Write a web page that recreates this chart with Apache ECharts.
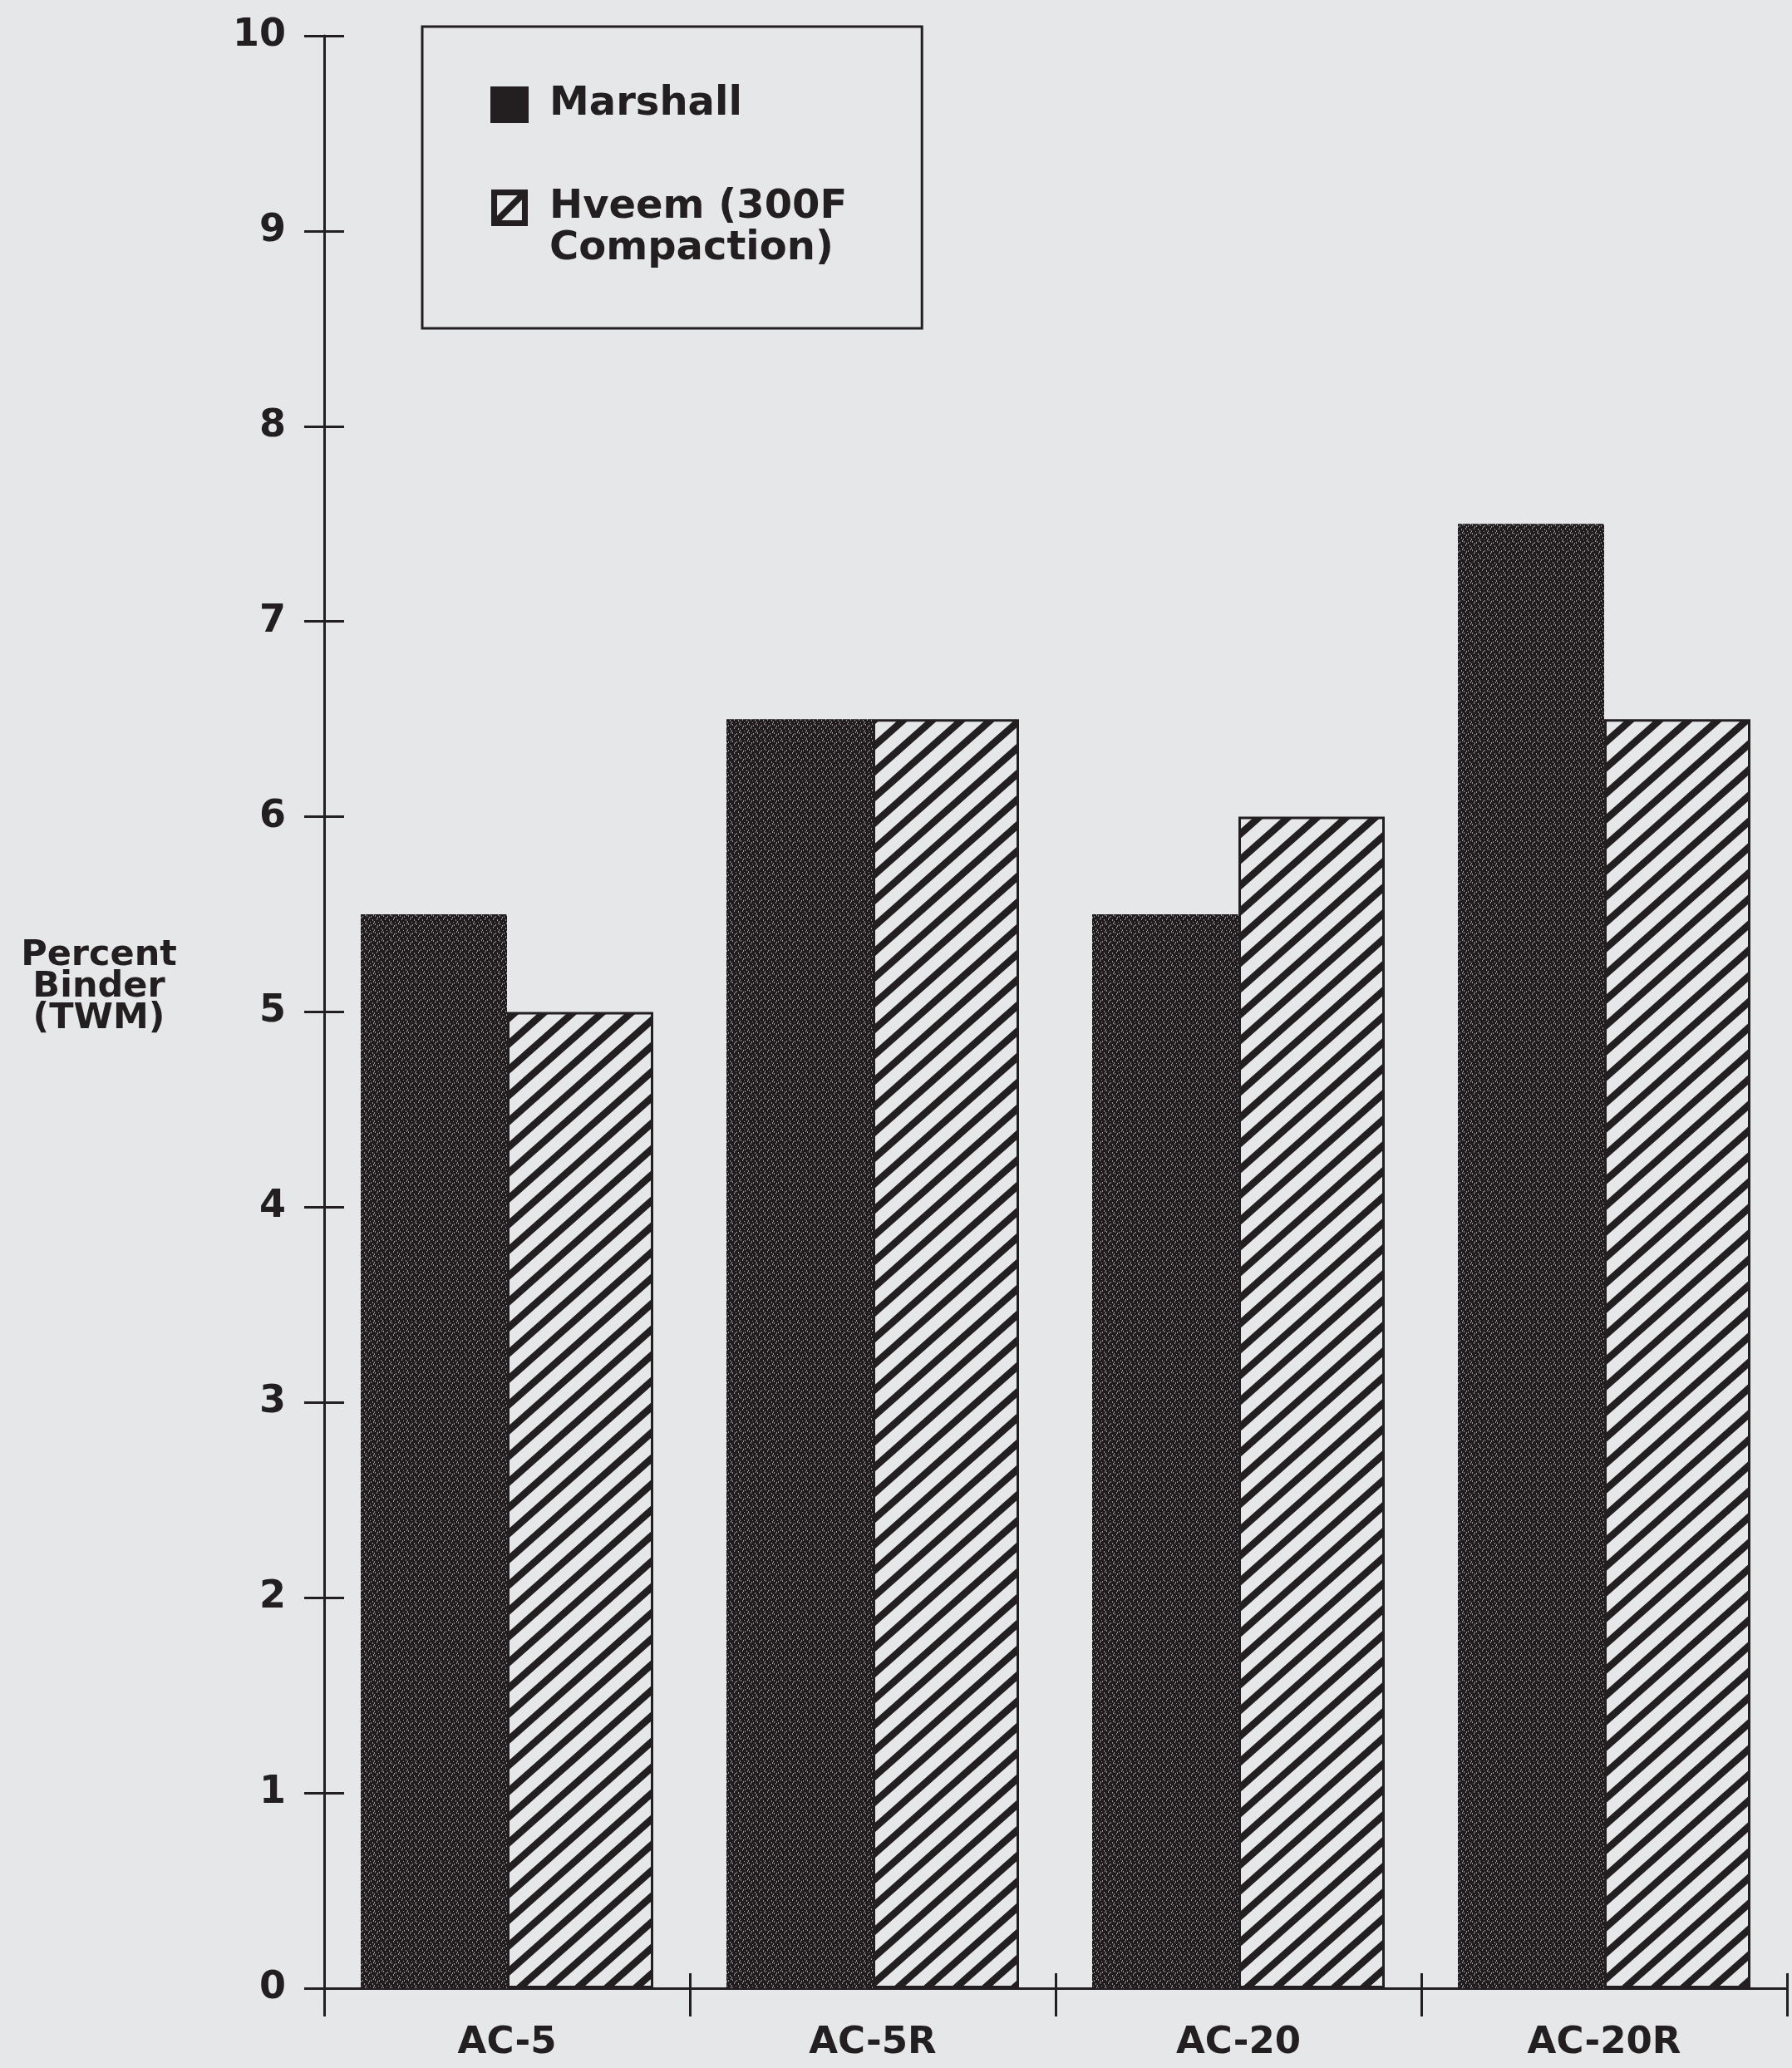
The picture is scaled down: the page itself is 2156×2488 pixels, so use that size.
<!DOCTYPE html>
<html><head><meta charset="utf-8">
<script src="https://cdn.jsdelivr.net/npm/echarts@6/dist/echarts.min.js"></script>
<style>html,body{margin:0;padding:0;background:#e6e7e9}#c{width:2156px;height:2488px}</style>
</head><body><div id="c"></div>
<script>
const categories = ['AC-5', 'AC-5R', 'AC-20', 'AC-20R'];
const marshall = [5.5, 6.5, 5.5, 7.5];
const hveem = [5.0, 6.5, 6.0, 6.5];
const seriesNames = ['Marshall', 'Hveem (300F\nCompaction)'];
const yAxisTitleLines = ['Percent', 'Binder', '(TWM)'];
const yMin = 0, yMax = 10, yStep = 1;

const INK = '#231f20';
const BG = '#e6e7e9';
const FONT = '"DejaVu Sans", sans-serif';

function hatchTile() {
  const W = 35, H = 31;
  const c = document.createElement('canvas');
  c.width = W; c.height = H;
  const g = c.getContext('2d');
  g.fillStyle = BG; g.fillRect(0, 0, W, H);
  g.strokeStyle = INK; g.lineWidth = 8.5;
  for (let k = -1; k <= 3; k++) {
    g.beginPath();
    g.moveTo((k - 2) * W, 2 * H);
    g.lineTo((k + 1) * W, -H);
    g.stroke();
  }
  return c;
}
function speckleTile() {
  const S = 10;
  const c = document.createElement('canvas');
  c.width = S; c.height = S;
  const g = c.getContext('2d');
  g.fillStyle = '#201c1d'; g.fillRect(0, 0, S, S);
  g.fillStyle = '#9a9697';
  const dots = [[1,1],[6,2],[3,5],[8,6],[0,8],[5,9],[9,0],[4,3]];
  dots.forEach(d => g.fillRect(d[0], d[1], 1, 2));
  return c;
}

const chart = echarts.init(document.getElementById('c'), null, {renderer: 'canvas'});
const hatch = {image: hatchTile(), repeat: 'repeat'};
const speckle = {image: speckleTile(), repeat: 'repeat'};

const titleRich = yAxisTitleLines.map(l => '{a|' + l + '}').join('\n') + '\n{b| }';

const option = {
  backgroundColor: BG,
  animation: false,
  grid: {left: 390, right: 6, top: 43, bottom: 96, containLabel: false},
  legend: {
    left: 508, top: 32, orient: 'vertical',
    padding: [69, 90, 70, 82],
    borderColor: INK, borderWidth: 3,
    itemWidth: 46, itemHeight: 44, itemGap: 24,
    formatter: function (name) {
      const lines = name.split('\n').map(l => '{t|' + l + '}');
      if (lines.length > 1) lines.unshift('{t| }');
      return lines.join('\n');
    },
    textStyle: {
      fontFamily: FONT, fontWeight: 'bold', fontSize: 48, color: INK, lineHeight: 50,
      rich: {t: {fontFamily: FONT, fontWeight: 'bold', fontSize: 48, color: INK, lineHeight: 50, padding: [0, 0, 0, 20]}}
    },
    data: [
      {name: seriesNames[0], icon: 'rect', itemStyle: {color: INK, borderWidth: 0}},
      {name: seriesNames[1],
       icon: 'path://M0,0L100,0L100,100L0,100ZM16,16L16,84L84,84L84,16ZM16,72L72,16L84,16L84,28L28,84L16,84Z',
       itemStyle: {color: INK, borderWidth: 0}}
    ]
  },
  xAxis: [
    {type: 'category', data: categories, boundaryGap: true,
     axisLine: {lineStyle: {color: INK, width: 3}},
     axisTick: {show: true, inside: false, length: 34, lineStyle: {color: INK, width: 3}},
     axisLabel: {fontFamily: FONT, fontWeight: 'bold', fontSize: 45, color: INK, margin: 44}},
    {type: 'category', data: categories, position: 'bottom', boundaryGap: true,
     axisLine: {show: false},
     axisTick: {show: true, inside: true, length: 18, lineStyle: {color: INK, width: 3}},
     axisLabel: {show: false}}
  ],
  yAxis: [
    {type: 'value', min: yMin, max: yMax, interval: yStep,
     name: titleRich, nameLocation: 'middle', nameRotate: 0, nameGap: 271,
     nameTextStyle: {align: 'center', verticalAlign: 'middle',
       rich: {
         a: {fontFamily: FONT, fontWeight: 'bold', fontSize: 43, color: INK, lineHeight: 38, align: 'center'},
         b: {fontSize: 10, lineHeight: 60}
       }},
     splitLine: {show: false},
     axisLine: {show: true, lineStyle: {color: INK, width: 3}},
     axisTick: {show: true, inside: false, length: 24, lineStyle: {color: INK, width: 3}},
     axisLabel: {fontFamily: FONT, fontWeight: 'bold', fontSize: 46, color: INK, margin: 46}},
    {type: 'value', min: yMin, max: yMax, interval: yStep, position: 'left',
     splitLine: {show: false},
     axisLine: {show: false},
     axisTick: {show: true, inside: true, length: 24, lineStyle: {color: INK, width: 3}},
     axisLabel: {show: false}}
  ],
  series: [
    {name: seriesNames[0], type: 'bar', data: marshall, barGap: '0%', barCategoryGap: '20%',
     itemStyle: {color: speckle, borderWidth: 0}},
    {name: seriesNames[1], type: 'bar', data: hveem, barGap: '0%', barCategoryGap: '20%',
     itemStyle: {color: hatch, borderColor: INK, borderWidth: 3}}
  ]
};
chart.setOption(option);
</script></body></html>
